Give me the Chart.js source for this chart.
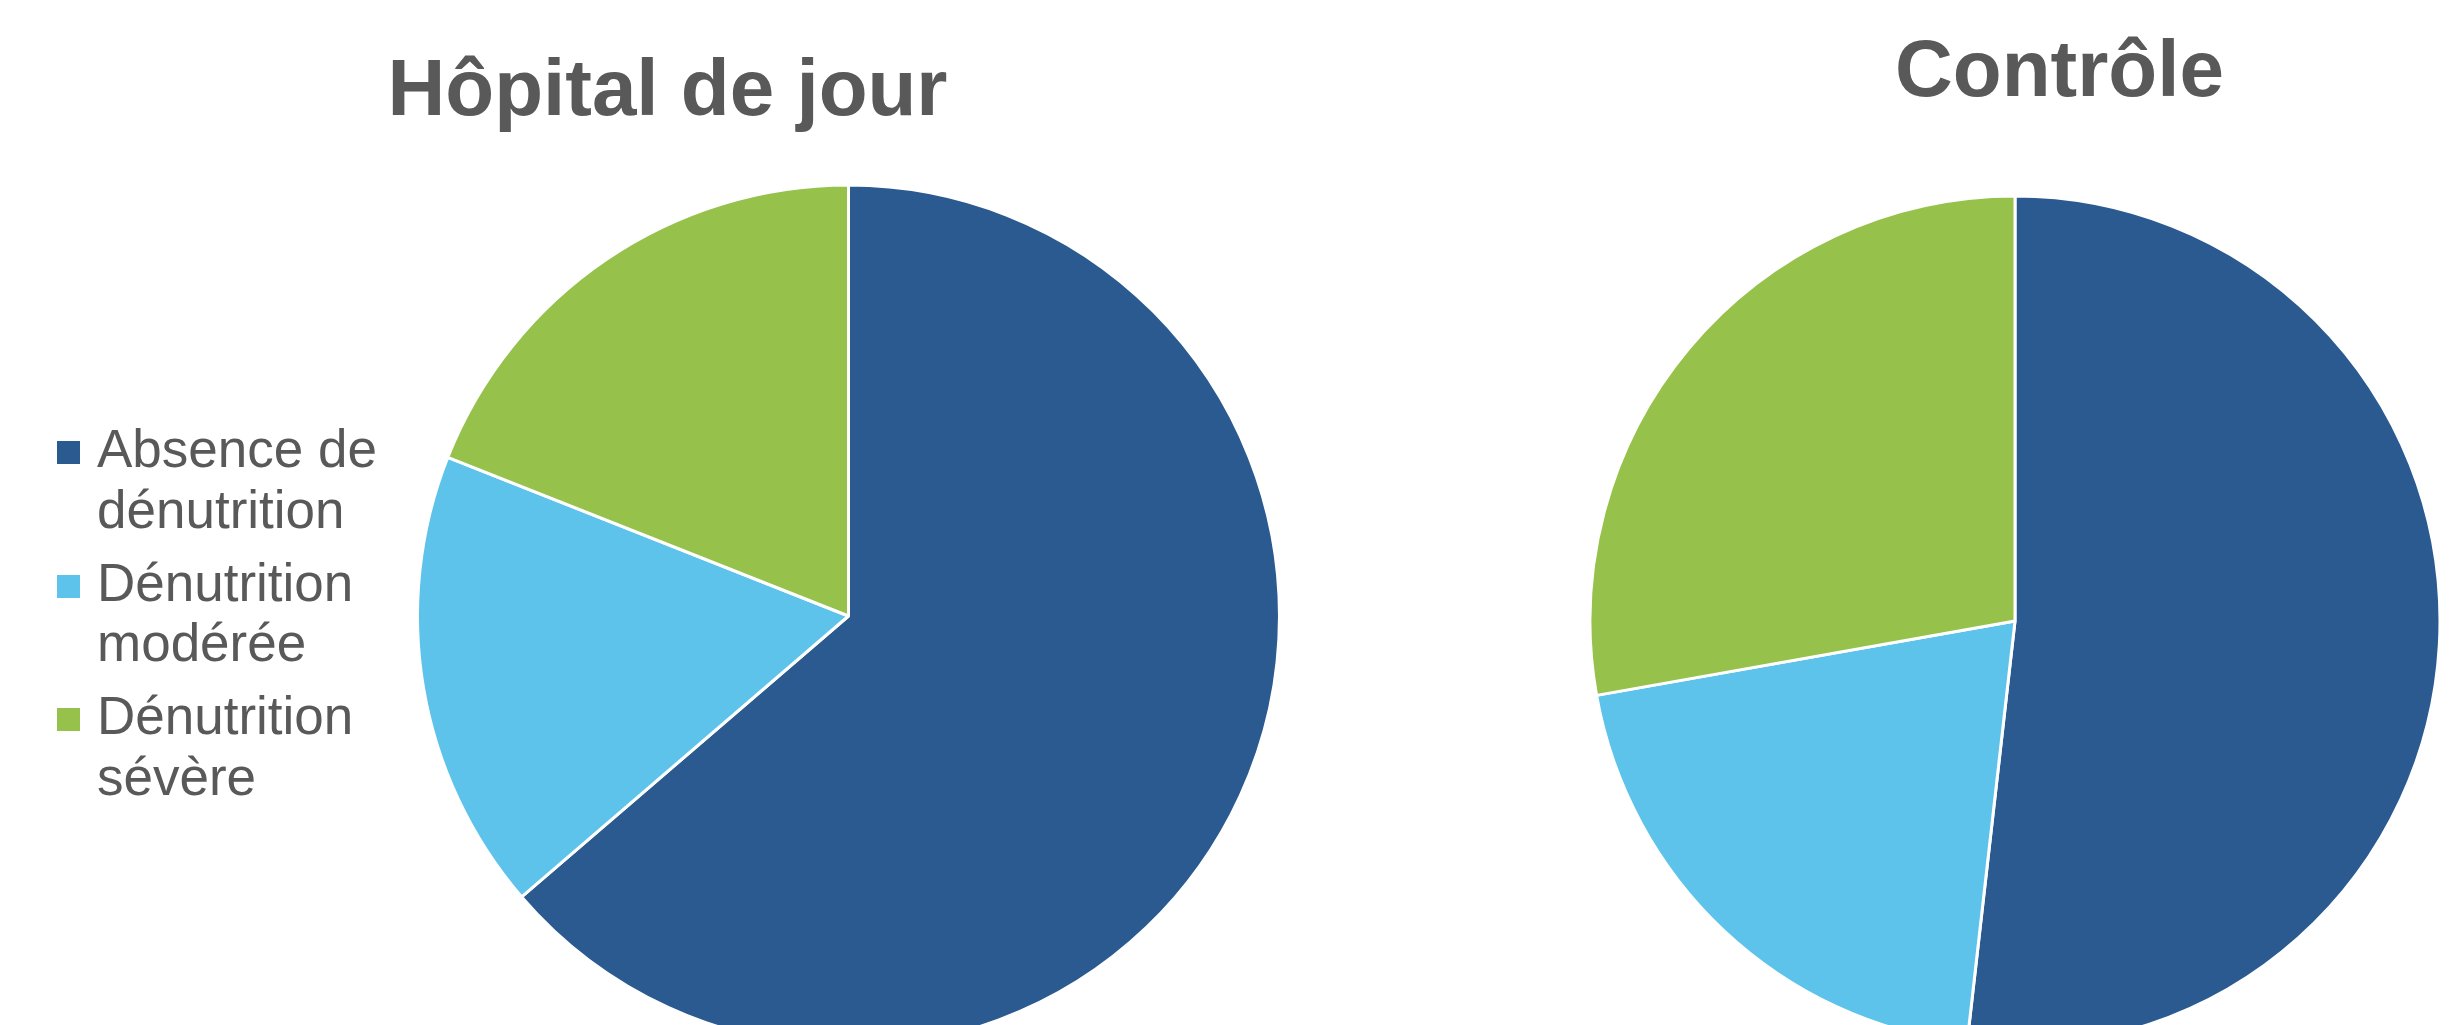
<!DOCTYPE html>
<html>
<head>
<meta charset="utf-8">
<script src="https://cdn.jsdelivr.net/npm/chart.js@4.4.1/dist/chart.umd.min.js"></script>
<style>
  html, body { margin: 0; padding: 0; background: #ffffff; overflow: hidden; }
  #stage { position: relative; width: 2451px; height: 1025px; overflow: hidden; background: #ffffff; }
  #c1 { position: absolute; left: 0px; top: 0px; }
  #c2 { position: absolute; left: 1580px; top: 0px; }
</style>
</head>
<body>
<div id="stage">
  <canvas id="c1" width="1290" height="1046"></canvas>
  <canvas id="c2" width="959" height="1045"></canvas>
</div>
<script>
// ---- data ----
const CATEGORIES = ['Absence de dénutrition', 'Dénutrition modérée', 'Dénutrition sévère'];
const LEGEND_LINES = [['Absence de', 'dénutrition'], ['Dénutrition', 'modérée'], ['Dénutrition', 'sévère']];
const CHART_TITLES = ['Hôpital de jour', 'Contrôle'];
const HOPITAL_VALUES = [63.7, 17.3, 19.0];
const CONTROLE_VALUES = [51.8, 20.4, 27.8];
const COLORS = ['#2A5A8F', '#5DC3EA', '#96C24C'];

// ---- styles ----
const FONT = '"Liberation Sans", Arial, Helvetica, sans-serif';
const TEXT = '#595959';
Chart.defaults.font.family = FONT;
Chart.defaults.color = TEXT;

function swatch(color) {
  const c = document.createElement('canvas');
  c.width = 23; c.height = 23;
  const g = c.getContext('2d');
  g.fillStyle = color;
  g.fillRect(0, 0, 23, 23);
  return c;
}

// the legend measures its widest line by character count; pad the first
// line with spaces so the legend box is wide enough for "Absence de"
function legendText(lines, i) {
  return i === 0 ? [lines[0] + '  ', lines[1]] : lines.slice();
}

function pieDataset(values, radius) {
  return {
    data: values,
    backgroundColor: COLORS,
    borderColor: '#ffffff',
    borderWidth: 3,
    hoverOffset: 0,
    offset: 0,
    radius: radius
  };
}

const common = {
  responsive: false,
  maintainAspectRatio: false,
  devicePixelRatio: 1,
  animation: false,
  events: []
};

new Chart(document.getElementById('c1'), {
  type: 'pie',
  data: { labels: CATEGORIES, datasets: [pieDataset(HOPITAL_VALUES, 431)] },
  options: Object.assign({}, common, {
    layout: { padding: { left: 54.4, right: 9.4, top: 0, bottom: 0 } },
    plugins: {
      title: {
        display: true,
        text: CHART_TITLES[0],
        color: TEXT,
        font: { family: FONT, size: 80, weight: 'bold', lineHeight: 1.2 },
        padding: { top: 45.3, bottom: 44.7 }
      },
      legend: {
        display: true,
        position: 'left',
        align: 'center',
        fullSize: false,
        title: {
          display: true,
          text: '',
          font: { size: 1, lineHeight: 1.2 },
          padding: { top: 7, bottom: 0 }
        },
        labels: {
          usePointStyle: true,
          pointStyleWidth: 3.6,
          boxHeight: 23,
          padding: 12.5,
          color: TEXT,
          font: { family: FONT, size: 53, lineHeight: 60.5 / 53 },
          generateLabels: () => LEGEND_LINES.map((lines, i) => ({
            text: legendText(lines, i),
            fillStyle: COLORS[i],
            strokeStyle: COLORS[i],
            fontColor: TEXT,
            lineWidth: 0,
            pointStyle: swatch(COLORS[i]),
            hidden: false,
            index: i,
            datasetIndex: 0,
            textAlign: 'left'
          }))
        }
      },
      tooltip: { enabled: false }
    }
  })
});

new Chart(document.getElementById('c2'), {
  type: 'pie',
  data: { labels: CATEGORIES, datasets: [pieDataset(CONTROLE_VALUES, 425)] },
  options: Object.assign({}, common, {
    layout: { padding: 0 },
    plugins: {
      title: {
        display: true,
        text: CHART_TITLES[1],
        color: TEXT,
        font: { family: FONT, size: 80, weight: 'bold', lineHeight: 1.2 },
        padding: { top: 25.8, bottom: 75.2 }
      },
      legend: {
        display: true,
        position: 'right',
        labels: {
          padding: 79,
          generateLabels: () => []
        }
      },
      tooltip: { enabled: false }
    }
  })
});
</script>
</body>
</html>
